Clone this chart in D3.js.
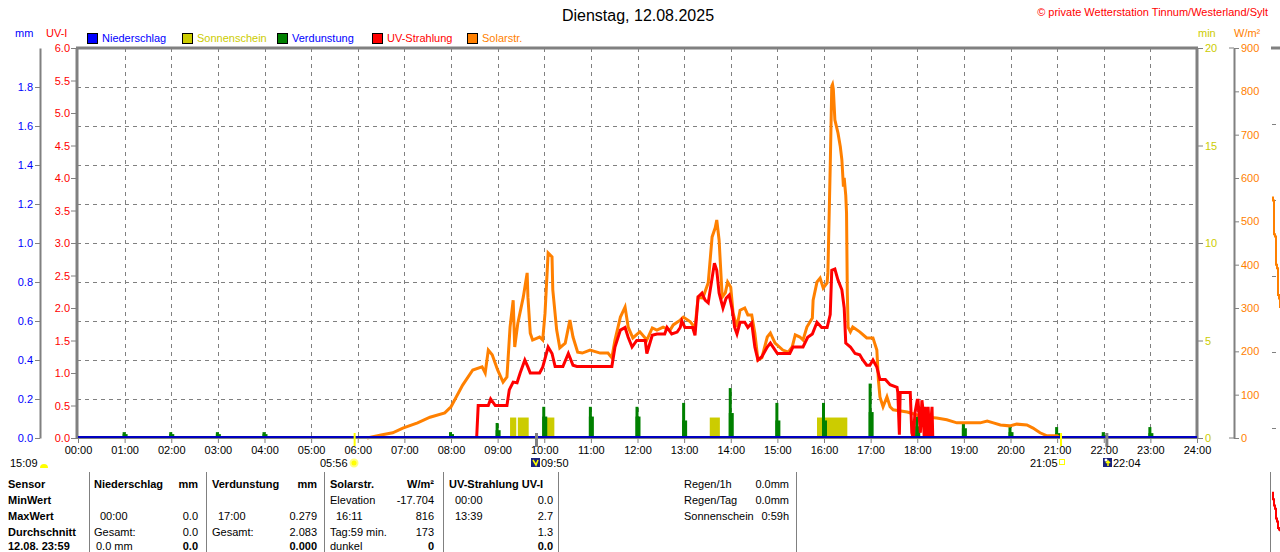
<!DOCTYPE html>
<html><head><meta charset="utf-8">
<script src="https://cdn.jsdelivr.net/npm/d3@7/dist/d3.min.js"></script>
<style>
html,body{margin:0;padding:0;background:#fff;}
svg{display:block;font-family:"Liberation Sans",Arial,sans-serif;}
</style></head><body>
<script>
// ---------------- DATA ----------------
const hourLabels = ["00:00","01:00","02:00","03:00","04:00","05:00","06:00","07:00","08:00","09:00","10:00","11:00","12:00","13:00","14:00","15:00","16:00","17:00","18:00","19:00","20:00","21:00","22:00","23:00","24:00"];
const uvTicks = [0,0.5,1,1.5,2,2.5,3,3.5,4,4.5,5,5.5,6];
const mmTicks = [0,0.2,0.4,0.6,0.8,1.0,1.2,1.4,1.6,1.8];
const minTicks = [0,5,10,15,20];
const wTicks = [0,100,200,300,400,500,600,700,800,900];

const solarTimes = ["06:12","06:30","06:45","06:58","07:17","07:33","07:52","08:00","08:15","08:28","08:40","08:44","08:48","08:53","09:00","09:07","09:12","09:16","09:20","09:22","09:26","09:33","09:38","09:39","09:42","09:45","09:54","09:58","10:01","10:05","10:10","10:11","10:16","10:20","10:27","10:33","10:37","10:43","10:49","10:59","11:12","11:22","11:27","11:31","11:38","11:44","11:48","11:54","12:03","12:12","12:19","12:25","12:33","12:42","12:46","12:55","12:59","13:08","13:14","13:18","13:24","13:31","13:36","13:40","13:42","13:45","13:49","13:53","13:56","14:00","14:03","14:08","14:12","14:18","14:22","14:27","14:31","14:35","14:40","14:47","14:51","14:57","15:07","15:14","15:19","15:23","15:29","15:33","15:38","15:45","15:46","15:51","15:55","15:59","16:04","16:05","16:08","16:10","16:11","16:12","16:14","16:18","16:21","16:23","16:25","16:26","16:28","16:29","16:30","16:31","16:34","16:37","16:46","16:55","17:03","17:08","17:10","17:12","17:16","17:21","17:25","17:29","17:47","18:00","18:13","18:25","18:38","18:51","19:04","19:21","19:30","19:38","19:47","19:59","20:08","20:21","20:29","20:38","20:47","21:00","21:04"];
const solarVals = [0,7,12,23,35,48,58,72,122,157,164,150,203,192,157,129,141,256,318,210,265,325,381,325,242,226,233,226,288,427,418,342,249,208,219,272,233,198,196,203,196,196,185,226,279,302,256,231,245,226,254,249,256,249,261,272,279,268,254,325,323,358,464,485,503,457,325,335,360,348,288,256,295,300,284,284,242,180,185,233,242,219,203,198,210,238,233,226,256,277,318,360,369,346,358,381,625,812,816,805,734,704,672,642,580,600,560,520,335,256,245,256,245,231,231,203,134,95,72,95,72,65,60,53,48,46,42,35,35,35,39,35,30,28,32,30,23,12,5,5,0];

const uvTimes = ["08:33","08:35","08:48","08:51","08:57","09:12","09:15","09:20","09:25","09:29","09:35","09:39","09:42","09:54","09:58","10:05","10:10","10:14","10:24","10:31","10:37","10:42","11:27","11:31","11:38","11:44","11:48","11:53","11:59","12:10","12:12","12:19","12:25","12:35","12:38","12:44","12:51","12:55","12:57","13:01","13:11","13:14","13:18","13:23","13:27","13:31","13:36","13:39","13:42","13:45","13:50","13:54","13:58","14:02","14:05","14:08","14:12","14:18","14:22","14:27","14:31","14:35","14:40","14:47","14:51","15:00","15:16","15:20","15:33","15:39","15:45","15:51","15:57","16:04","16:08","16:10","16:14","16:18","16:23","16:26","16:28","16:34","16:40","16:46","16:50","16:55","16:59","17:03","17:08","17:12","17:19","17:25","17:34","17:35","17:37","17:38","17:51","17:53","17:55","17:57","18:00","18:01","18:04","18:06","18:07","18:09","18:10","18:13","18:14","18:16","18:19","18:20"];
const uvVals = [0,0.5,0.5,0.6,0.5,0.5,0.74,0.86,0.85,1.0,1.2,1.09,1.0,1.0,1.09,1.4,1.3,1.1,1.1,1.3,1.12,1.1,1.1,1.4,1.66,1.7,1.55,1.4,1.5,1.5,1.3,1.58,1.6,1.6,1.7,1.6,1.63,1.7,1.8,1.7,1.7,1.58,2.17,2.23,2.12,2.08,2.46,2.69,2.58,2.23,2.0,2.15,2.2,1.97,1.7,1.6,1.78,1.78,1.7,1.77,1.4,1.2,1.25,1.4,1.46,1.3,1.3,1.4,1.4,1.55,1.6,1.78,1.7,1.7,1.9,2.58,2.6,2.43,2.28,2.0,1.46,1.4,1.3,1.28,1.2,1.12,1.12,1.2,1.09,0.9,0.9,0.82,0.78,0.7,0.05,0.7,0.7,0.08,0,0.38,0.58,0.58,0.08,0.58,0.48,0,0.48,0,0.48,0,0.48,0];

const sunStart = ["09:16","09:26","10:02","13:33","15:51"];
const sunEnd   = ["09:24","09:40","10:13","13:46","16:30"];
const sunMin   = [1.05,1.05,1.05,1.05,1.05];

const evapHours   = [0,1,2,3,4,5,6,7,8,9,10,11,12,13,14,15,16,17,18,19,20,21,22,23];
const evapPeak    = [0,0.03,0.03,0.03,0.03,0,0,0,0.03,0.077,0.16,0.16,0.16,0.18,0.256,0.18,0.18,0.279,0.11,0.08,0.056,0.056,0.03,0.056];
const evapShoulder= [0,0.02,0.02,0.02,0.02,0,0,0,0.02,0.04,0.11,0.11,0.11,0.09,0.128,0.09,0.09,0.133,0.06,0.05,0.03,0.025,0.015,0.025];

const rainTimes = ["00:00","24:00"];
const rainVals = [0,0];

const sunMarks = ["05:56","21:05"];
const moonMarks = ["09:50","22:04"];

// fragment of the neighbouring chart at the right edge
const nbSolar = [555,548,470,465,400,392,330,322,300];
const nbUV = [2.1,1.9,1.7,1.6,1.3,1.2,1.0,0.95,0.9];

// ---------------- DRAW ----------------
const W = 1280, H = 552;
const svg = d3.select("body").append("svg").attr("width",W).attr("height",H);
svg.append("rect").attr("width",W).attr("height",H).attr("fill","#fff");

const tm = s => { const [h,m] = s.split(":").map(Number); return h*60+m; };
const L = 77, R = 1197, T = 48, B = 438;
const x = d3.scaleLinear().domain([0,1440]).range([78,R]);
const yUV = d3.scaleLinear().domain([0,6]).range([B,T]);
const yMM = d3.scaleLinear().domain([0,2]).range([B,T]);
const yMin = d3.scaleLinear().domain([0,20]).range([B,T]);
const yW = d3.scaleLinear().domain([0,900]).range([B,T]);
const GREY = "#808080";
const FONT = "11px";

// grid
const g = svg.append("g");
g.selectAll(".vg").data(hourLabels.slice(1,24)).join("line")
  .attr("x1",d=>Math.round(x(tm(d)))+0.5).attr("x2",d=>Math.round(x(tm(d)))+0.5)
  .attr("y1",T).attr("y2",B).attr("stroke",GREY).attr("stroke-dasharray","4,4");
g.selectAll(".hg").data(mmTicks.slice(1)).join("line")
  .attr("x1",L).attr("x2",R).attr("y1",d=>Math.round(yMM(d))+0.5).attr("y2",d=>Math.round(yMM(d))+0.5)
  .attr("stroke",GREY).attr("stroke-dasharray","4,4");

// sunshine bars
svg.append("g").selectAll("rect").data(sunStart).join("rect")
  .attr("x",(d,i)=>x(tm(d))).attr("width",(d,i)=>x(tm(sunEnd[i]))-x(tm(d)))
  .attr("y",(d,i)=>yMin(sunMin[i])).attr("height",(d,i)=>B-yMin(sunMin[i]))
  .attr("fill","#CCCC00");

// evaporation spikes
const ev = svg.append("g").attr("fill","#008000");
ev.selectAll(".s").data(evapHours).join("rect")
  .attr("x",d=>x(d*60)-2).attr("width",5)
  .attr("y",(d,i)=>yMM(evapShoulder[i])).attr("height",(d,i)=>B-yMM(evapShoulder[i]));
ev.selectAll(".p").data(evapHours).join("rect")
  .attr("x",d=>x(d*60)-2).attr("width",3)
  .attr("y",(d,i)=>yMM(evapPeak[i])).attr("height",(d,i)=>B-yMM(evapPeak[i]));

// lines
const solarLine = d3.line().x(d=>x(tm(d[0]))).y(d=>yW(d[1]));
svg.append("path").datum(solarTimes.map((t,i)=>[t,solarVals[i]]))
  .attr("d",solarLine).attr("fill","none").attr("stroke","#FF8000").attr("stroke-width",3).attr("stroke-linejoin","miter");
const uvLine = d3.line().x(d=>x(tm(d[0]))).y(d=>yUV(d[1]));
svg.append("path").datum(uvTimes.map((t,i)=>[t,uvVals[i]]))
  .attr("d",uvLine).attr("fill","none").attr("stroke","#FF0000").attr("stroke-width",3).attr("stroke-linejoin","miter");

// frame
const fr = svg.append("g").attr("stroke",GREY).attr("stroke-width",3).attr("fill","none");
fr.append("line").attr("x1",L-1).attr("x2",R+1).attr("y1",T).attr("y2",T);
fr.append("line").attr("x1",L).attr("x2",L).attr("y1",T).attr("y2",B+1);
fr.append("line").attr("x1",R).attr("x2",R).attr("y1",T).attr("y2",B+1);
svg.append("line").attr("x1",L).attr("x2",R).attr("y1",B+0.5).attr("y2",B+0.5).attr("stroke",GREY);

// rain baseline
const rainLine = d3.line().x(d=>x(tm(d[0]))).y(d=>yMM(d[1])-1);
svg.append("path").datum(rainTimes.map((t,i)=>[t,rainVals[i]]))
  .attr("d",rainLine).attr("stroke","#0000C0").attr("stroke-width",2).attr("fill","none");

// markers
svg.append("g").selectAll("line").data(sunMarks).join("line")
  .attr("x1",d=>x(tm(d))).attr("x2",d=>x(tm(d))).attr("y1",433).attr("y2",446)
  .attr("stroke","#FFFF00").attr("stroke-width",2);
svg.append("g").selectAll("line").data(moonMarks).join("line")
  .attr("x1",d=>x(tm(d))).attr("x2",d=>x(tm(d))).attr("y1",433).attr("y2",447)
  .attr("stroke",GREY).attr("stroke-width",3);

function styleAxis(sel,color){
  sel.selectAll("text").attr("fill",color).style("font-size",FONT).style("font-family","Liberation Sans, Arial, sans-serif");
  sel.selectAll(".tick line").attr("stroke",GREY);
  sel.select(".domain").attr("stroke",GREY);
}
// axes
const ax1 = svg.append("g").attr("transform",`translate(${L-1},0)`)
  .call(d3.axisLeft(yUV).tickValues(uvTicks).tickFormat(d3.format(".1f")).tickSize(5).tickPadding(1));
ax1.select(".domain").remove(); styleAxis(ax1,"#FF0000");
const ax2 = svg.append("g").attr("transform",`translate(40,0)`)
  .call(d3.axisLeft(yMM).tickValues(mmTicks).tickFormat(d3.format(".1f")).tickSize(5).tickSizeOuter(0).tickPadding(2));
styleAxis(ax2,"#0000FF"); ax2.select(".domain").attr("stroke-width",2);
const ax3 = svg.append("g").attr("transform",`translate(${R+1},0)`)
  .call(d3.axisRight(yMin).tickValues(minTicks).tickSize(5).tickPadding(2));
ax3.select(".domain").remove(); styleAxis(ax3,"#CCCC00");
const ax4 = svg.append("g").attr("transform",`translate(1234,0)`)
  .call(d3.axisRight(yW).tickValues(wTicks).tickSize(5).tickSizeOuter(0).tickPadding(2));
styleAxis(ax4,"#FF8000"); ax4.select(".domain").attr("stroke-width",2);
ax4.append("line").attr("x1",-5).attr("x2",0).attr("y1",T).attr("y2",T).attr("stroke",GREY);
ax4.append("line").attr("x1",-5).attr("x2",0).attr("y1",B).attr("y2",B).attr("stroke",GREY);
const ax5 = svg.append("g").attr("transform",`translate(0,${B})`)
  .call(d3.axisBottom(x).tickValues(hourLabels.map(tm)).tickFormat((d,i)=>hourLabels[i]).tickSize(5).tickPadding(3));
ax5.select(".domain").remove(); styleAxis(ax5,"#000");

// texts
const txt = (s,xx,yy,opt={}) => svg.append("text").attr("x",xx).attr("y",yy).text(s)
  .attr("fill",opt.c||"#000").style("font-size",opt.s||FONT)
  .style("font-weight",opt.b?"bold":"normal").attr("text-anchor",opt.a||"start");
txt("Dienstag, 12.08.2025",638,21,{s:"16px",a:"middle"});
txt("© private Wetterstation Tinnum/Westerland/Sylt",1268,16,{c:"#FF0000",a:"end"});
txt("mm",15,37,{c:"#0000FF"});
txt("UV-I",46,37,{c:"#FF0000"});
txt("min",1198,37,{c:"#CCCC00"});
txt("W/m²",1234,37,{c:"#FF8000"});

const legend = [["Niederschlag","#0000FF","#0000FF",87],["Sonnenschein","#CCCC00","#CCCC00",182],["Verdunstung","#008000","#0000FF",277],["UV-Strahlung","#FF0000","#FF0000",372],["Solarstr.","#FF8000","#FF8000",467]];
legend.forEach(([n,fc,tc,lx])=>{
  svg.append("rect").attr("x",lx+0.5).attr("y",33.5).attr("width",10).attr("height",10).attr("fill",fc).attr("stroke","#000");
  txt(n,lx+15,42,{c:tc});
});

// below-axis time stamps with icons
txt("15:09",10,467);
svg.append("path").attr("d","M40,468 a4,4 0 0 1 8,0 z").attr("fill","#FFFF00");
txt("05:56",320,467);
svg.append("circle").attr("cx",354).attr("cy",463).attr("r",3.5).attr("fill","#FFFF00").attr("stroke","#FFFF80").attr("stroke-width",2);
svg.append("rect").attr("x",531).attr("y",458).attr("width",9).attr("height",9).attr("fill","#1A237E");
svg.append("path").attr("d","M533,460 l3,5 l2,-5").attr("stroke","#FFFF00").attr("fill","none").attr("stroke-width",1.5);
txt("09:50",541,467);
txt("21:05",1030,467);
svg.append("rect").attr("x",1059.5).attr("y",459.5).attr("width",5).attr("height",5).attr("fill","none").attr("stroke","#FFFF00");
svg.append("rect").attr("x",1103).attr("y",458).attr("width",9).attr("height",9).attr("fill","#1A237E");
svg.append("circle").attr("cx",1106).attr("cy",460).attr("r",1.5).attr("fill","#fff");
svg.append("path").attr("d","M1108,466 v-5 m-2,2 l2,-2 l2,2").attr("stroke","#FFFF00").attr("fill","none").attr("stroke-width",1.5);
txt("22:04",1113,467);

// table
[89,206,324,443,558,796].forEach(sx=>svg.append("line").attr("x1",sx+0.5).attr("x2",sx+0.5).attr("y1",472).attr("y2",552).attr("stroke",GREY));
const rows = [488,504,520,536,550];
["Sensor","MinWert","MaxWert","Durchschnitt","12.08. 23:59"].forEach((s,i)=>txt(s,8,rows[i],{b:true}));
txt("Niederschlag",94,rows[0],{b:true}); txt("mm",198,rows[0],{b:true,a:"end"});
txt("00:00",100,rows[2]); txt("0.0",198,rows[2],{a:"end"});
txt("Gesamt:",94,rows[3]); txt("0.0",198,rows[3],{a:"end"});
txt("0.0 mm",96,rows[4]); txt("0.0",198,rows[4],{a:"end",b:true});
txt("Verdunstung",212,rows[0],{b:true}); txt("mm",317,rows[0],{b:true,a:"end"});
txt("17:00",218,rows[2]); txt("0.279",317,rows[2],{a:"end"});
txt("Gesamt:",212,rows[3]); txt("2.083",317,rows[3],{a:"end"});
txt("0.000",317,rows[4],{a:"end",b:true});
txt("Solarstr.",330,rows[0],{b:true}); txt("W/m²",434,rows[0],{b:true,a:"end"});
txt("Elevation",330,rows[1]); txt("-17.704",434,rows[1],{a:"end"});
txt("16:11",336,rows[2]); txt("816",434,rows[2],{a:"end"});
txt("Tag:59 min.",330,rows[3]); txt("173",434,rows[3],{a:"end"});
txt("dunkel",330,rows[4]); txt("0",434,rows[4],{a:"end",b:true});
txt("UV-Strahlung UV-I",449,rows[0],{b:true});
txt("00:00",455,rows[1]); txt("0.0",553,rows[1],{a:"end"});
txt("13:39",455,rows[2]); txt("2.7",553,rows[2],{a:"end"});
txt("1.3",553,rows[3],{a:"end"});
txt("0.0",553,rows[4],{a:"end",b:true});
txt("Regen/1h",684,488); txt("0.0mm",789,488,{a:"end"});
txt("Regen/Tag",684,504); txt("0.0mm",789,504,{a:"end"});
txt("Sonnenschein",684,520); txt("0:59h",789,520,{a:"end"});

// neighbouring chart fragment
const nx = d3.scaleLinear().domain([0,nbSolar.length-1]).range([1272,1280]);
const nb = svg.append("g");
nb.append("line").attr("x1",1271).attr("x2",1280).attr("y1",T).attr("y2",T).attr("stroke",GREY).attr("stroke-width",3);
[124,200,276,352,428].forEach(yy=>nb.append("line").attr("x1",1272).attr("x2",1276).attr("y1",yy+0.5).attr("y2",yy+0.5).attr("stroke",GREY));
nb.append("path").datum(nbSolar).attr("d",d3.line().x((d,i)=>nx(i)).y(d=>yW(d)).curve(d3.curveStepAfter))
  .attr("fill","none").attr("stroke","#FF8000").attr("stroke-width",2);
const nyUV = d3.scaleLinear().domain([0,2.5]).range([560,480]);
nb.append("line").attr("x1",1270.5).attr("x2",1270.5).attr("y1",472).attr("y2",552).attr("stroke",GREY);
nb.append("path").datum(nbUV).attr("d",d3.line().x((d,i)=>nx(i)).y(d=>nyUV(d)).curve(d3.curveStepAfter))
  .attr("fill","none").attr("stroke","#FF0000").attr("stroke-width",2);
</script>
</body></html>
